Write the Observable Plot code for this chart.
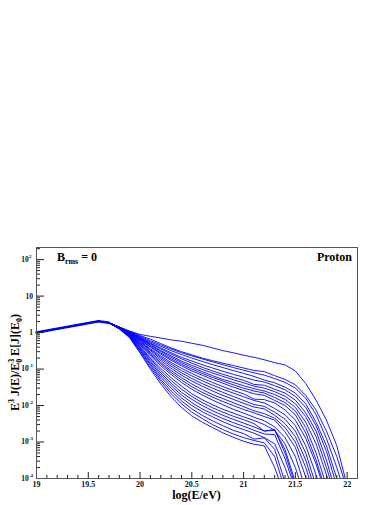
<!DOCTYPE html>
<html>
<head>
<meta charset="utf-8">
<script src="https://cdn.jsdelivr.net/npm/d3@7"></script>
<script src="https://cdn.jsdelivr.net/npm/@observablehq/plot@0.6"></script>
<style>
  html, body { margin: 0; padding: 0; background: #fff; }
  svg { display: block; }
</style>
</head>
<body>
<div id="chart"></div>
<script>
// ---------- data ----------
const HEAD_X = [19.0, 19.6, 19.7];
const HEAD_Y = [1.0, 2.05, 1.85];
const E_GRID = [19.8, 19.9, 20.0, 20.1, 20.2, 20.3, 20.4, 20.5, 20.6, 20.7, 20.8, 20.9,
                21.0, 21.1, 21.2, 21.3, 21.4, 21.5, 21.6, 21.7, 21.8, 21.9, 22.0];

const c01 = [1.41, 1.10, 0.89, 0.79, 0.71, 0.63, 0.58, 0.51, 0.45, 0.38, 0.32, 0.28, 0.24, 0.21, 0.18, 0.15, 0.13, 0.089, 0.040, 0.014, 4.0e-3, 7.9e-4, 6.3e-5];
const c02 = [1.41, 1.07, 0.83, 0.66, 0.50, 0.38, 0.30, 0.245, 0.20, 0.17, 0.145, 0.125, 0.107, 0.092, 0.085, 0.066, 0.052, 0.037, 0.019, 7.5e-3, 2.0e-3, 4.0e-4, 5.0e-5];
const c03 = [1.41, 1.05, 0.79, 0.60, 0.46, 0.355, 0.28, 0.23, 0.19, 0.158, 0.132, 0.110, 0.093, 0.079, 0.068, 0.055, 0.043, 0.030, 0.0158, 5.6e-3, 1.26e-3, 2.0e-4, 2.5e-5];
const c04 = [1.41, 1.05, 0.76, 0.56, 0.42, 0.32, 0.25, 0.20, 0.162, 0.132, 0.110, 0.091, 0.076, 0.063, 0.050, 0.042, 0.032, 0.022, 0.0112, 3.5e-3, 7.9e-4, 1.0e-4, 1.3e-5];
const c05 = [1.41, 1.02, 0.72, 0.52, 0.38, 0.28, 0.21, 0.166, 0.132, 0.107, 0.087, 0.072, 0.060, 0.050, 0.044, 0.035, 0.027, 0.0178, 8.9e-3, 2.8e-3, 5.6e-4, 6.3e-5];
const c06 = [1.41, 1.02, 0.71, 0.50, 0.355, 0.257, 0.191, 0.145, 0.112, 0.089, 0.072, 0.059, 0.049, 0.038, 0.036, 0.028, 0.022, 0.0141, 6.3e-3, 2.0e-3, 3.2e-4, 3.2e-5];
const c07 = [1.41, 1.0, 0.68, 0.47, 0.32, 0.23, 0.166, 0.126, 0.098, 0.078, 0.063, 0.051, 0.042, 0.034, 0.030, 0.024, 0.018, 0.0112, 5.0e-3, 1.41e-3, 2.0e-4, 2.5e-5];
const c08 = [1.41, 1.0, 0.66, 0.45, 0.30, 0.21, 0.151, 0.112, 0.085, 0.066, 0.052, 0.043, 0.035, 0.029, 0.025, 0.020, 0.0148, 8.9e-3, 3.5e-3, 8.9e-4, 1.26e-4, 2.0e-5];
const c09 = [1.38, 0.98, 0.63, 0.42, 0.275, 0.19, 0.135, 0.10, 0.076, 0.059, 0.047, 0.037, 0.030, 0.025, 0.022, 0.0166, 0.012, 7.1e-3, 2.5e-3, 5.0e-4, 6.3e-5];
const c10 = [1.38, 0.98, 0.62, 0.40, 0.257, 0.174, 0.123, 0.089, 0.068, 0.052, 0.041, 0.032, 0.026, 0.021, 0.019, 0.0138, 0.010, 5.6e-3, 1.78e-3, 3.2e-4, 4.0e-5];
const c11 = [1.38, 0.95, 0.59, 0.36, 0.23, 0.151, 0.105, 0.076, 0.056, 0.043, 0.033, 0.026, 0.021, 0.0150, 0.0145, 0.0118, 7.6e-3, 4.0e-3, 1.26e-3, 2.5e-4, 3.2e-5];
const c12 = [1.38, 0.93, 0.56, 0.34, 0.21, 0.135, 0.091, 0.065, 0.048, 0.036, 0.028, 0.022, 0.0174, 0.0138, 0.0118, 8.3e-3, 5.6e-3, 2.8e-3, 7.9e-4, 1.26e-4, 1.6e-5];
const c13 = [1.38, 0.93, 0.54, 0.32, 0.19, 0.12, 0.079, 0.055, 0.040, 0.030, 0.023, 0.0178, 0.0138, 0.0107, 9.5e-3, 6.6e-3, 4.2e-3, 2.0e-3, 5.0e-4, 6.3e-5];
const c14 = [1.35, 0.91, 0.51, 0.29, 0.17, 0.105, 0.068, 0.047, 0.034, 0.025, 0.019, 0.0148, 0.0115, 9.1e-3, 8.1e-3, 5.4e-3, 3.2e-3, 1.41e-3, 3.2e-4, 4.0e-5];
const c15 = [1.35, 0.89, 0.49, 0.27, 0.151, 0.091, 0.058, 0.039, 0.0275, 0.020, 0.0155, 0.012, 9.3e-3, 7.2e-3, 6.0e-3, 4.5e-3, 2.5e-3, 1.0e-3, 2.0e-4, 2.5e-5];
const c16 = [1.35, 0.89, 0.47, 0.25, 0.138, 0.081, 0.050, 0.033, 0.023, 0.017, 0.0129, 0.010, 7.8e-3, 6.3e-3, 5.0e-3, 4.0e-3, 1.9e-3, 7.1e-4, 1.1e-4, 1.6e-5];
const c17 = [1.35, 0.87, 0.45, 0.23, 0.123, 0.071, 0.043, 0.028, 0.0195, 0.0141, 0.0105, 7.9e-3, 6.2e-3, 4.8e-3, 3.8e-3, 2.6e-3, 1.32e-3, 4.0e-4, 5.0e-5];
const c18 = [1.32, 0.85, 0.42, 0.20, 0.105, 0.058, 0.034, 0.021, 0.0145, 0.0105, 7.9e-3, 6.2e-3, 4.9e-3, 3.9e-3, 3.0e-3, 2.1e-3, 8.9e-4, 2.0e-4, 2.5e-5];
const c19 = [1.32, 0.83, 0.40, 0.19, 0.091, 0.049, 0.028, 0.0178, 0.012, 8.7e-3, 6.6e-3, 5.1e-3, 4.1e-3, 3.2e-3, 2.0e-3, 2.1e-3, 6.3e-4, 7.9e-5];
const c20 = [1.32, 0.81, 0.38, 0.17, 0.079, 0.041, 0.023, 0.0148, 0.010, 7.2e-3, 5.4e-3, 4.2e-3, 3.3e-3, 2.6e-3, 2.0e-3, 2.2e-3, 5.0e-4, 6.3e-5];
const c21 = [1.29, 0.79, 0.355, 0.155, 0.069, 0.035, 0.0195, 0.012, 8.1e-3, 5.9e-3, 4.4e-3, 3.4e-3, 2.7e-3, 2.1e-3, 1.66e-3, 1.6e-3, 3.5e-4, 5.0e-5];
const c22 = [1.29, 0.78, 0.33, 0.138, 0.060, 0.030, 0.0162, 0.010, 6.8e-3, 4.9e-3, 3.6e-3, 2.75e-3, 2.2e-3, 1.74e-3, 1.32e-3, 8.9e-4, 2.0e-4, 3.2e-5];
const c23 = [1.29, 0.76, 0.32, 0.126, 0.052, 0.025, 0.0135, 8.1e-3, 5.4e-3, 3.8e-3, 2.8e-3, 2.1e-3, 1.7e-3, 1.2e-3, 1.3e-3, 6.3e-4, 7.9e-5];
const c24 = [1.26, 0.74, 0.295, 0.112, 0.046, 0.021, 0.0112, 6.6e-3, 4.4e-3, 3.0e-3, 2.2e-3, 1.66e-3, 1.32e-3, 1.1e-3, 9.5e-4, 4.0e-4, 5.0e-5];
const c25 = [1.26, 0.72, 0.275, 0.10, 0.039, 0.0174, 8.9e-3, 5.2e-3, 3.5e-3, 2.5e-3, 1.78e-3, 1.35e-3, 1.05e-3, 8.7e-4, 7.9e-4, 2.0e-4, 3.2e-5];

const X_TICKS = [19, 19.5, 20, 20.5, 21, 21.5, 22];
const X_TICK_LABELS = ["19", "19.5", "20", "20.5", "21", "21.5", "22"];
const Y_TICKS = [1e2, 10, 1, 1e-1, 1e-2, 1e-3, 1e-4];
const Y_TICK_BASE = ["10", "10", "1", "10", "10", "10", "10"];
const Y_TICK_EXP = ["2", "", "", "-1", "-2", "-3", "-4"];

// ---------- layout ----------
const W = 390, H = 505;
const ML = 36, MR = 33, MT = 247, MB = 27;
const FW = W - ML - MR, FH = H - MT - MB;
const FONT = "'Liberation Serif', 'Times New Roman', serif";

const curves = [c01,c02,c03,c04,c05,c06,c07,c08,c09,c10,c11,c12,c13,c14,c15,c16,c17,c18,c19,c20,c21,c22,c23,c24,c25];
const rows = curves.flatMap((c, i) => [
  ...HEAD_X.map((x, j) => ({id: i, x, y: HEAD_Y[j]})),
  ...c.map((y, j) => ({id: i, x: E_GRID[j], y}))
]);
const head = HEAD_X.map((x, j) => ({x, y: HEAD_Y[j]}));

const xMinor = d3.range(19, 22.1, 0.1).map(v => +v.toFixed(1)).filter(v => !X_TICKS.includes(v) && v <= 22.05);
const yMinor = [];
for (let k = -4; k <= 2; k++) for (let m = 2; m <= 9; m++) { const v = m * Math.pow(10, k); if (v < 215) yMinor.push(v); }

const yLab = Y_TICKS.map((v, i) => ({v, base: Y_TICK_BASE[i], exp: Y_TICK_EXP[i]}));
const xLab = X_TICKS.map((v, i) => ({v, t: X_TICK_LABELS[i]}));

const plot = Plot.plot({
  width: W, height: H,
  marginLeft: ML, marginRight: MR, marginTop: MT, marginBottom: MB,
  style: {fontFamily: FONT, background: "#fff"},
  x: {domain: [19, 22.1], axis: null},
  y: {type: "log", domain: [1e-4, 215], axis: null},
  marks: [
    Plot.line(rows, {x: "x", y: "y", z: "id", stroke: "#0000ff", strokeWidth: 0.9, clip: true}),
    Plot.line(head, {x: "x", y: "y", stroke: "#0000ff", strokeWidth: 2.6}),
    // x ticks (inward, from bottom)
    Plot.tickX(X_TICKS, {x: d => d, insetTop: FH - 6, stroke: "#222"}),
    Plot.tickX(xMinor, {x: d => d, insetTop: FH - 3, stroke: "#222"}),
    // y ticks (inward, from left)
    Plot.tickY(Y_TICKS, {y: d => d, insetRight: FW - 8, stroke: "#222"}),
    Plot.tickY(yMinor, {y: d => d, insetRight: FW - 4, stroke: "#222"}),
    // x tick labels
    Plot.text(xLab, {x: "v", text: "t", frameAnchor: "bottom", lineAnchor: "middle", dy: 6, fontSize: 8, fontWeight: "bold", fill: "#111"}),
    // y tick labels
    Plot.text(yLab.filter(d => !d.exp), {y: "v", text: "base", frameAnchor: "left", textAnchor: "end", dx: -3.5, fontSize: 7.5, fontWeight: "bold", fill: "#111"}),
    Plot.text(yLab.filter(d => d.exp), {y: "v", text: "base", frameAnchor: "left", textAnchor: "end", dx: -7.8, fontSize: 7.5, fontWeight: "bold", fill: "#111"}),
    Plot.text(yLab.filter(d => d.exp), {y: "v", text: "exp", frameAnchor: "left", textAnchor: "start", dx: -7.6, dy: -3.5, fontSize: 5, fontWeight: "bold", fill: "#111"}),
    Plot.frame({stroke: "#555", strokeWidth: 1})
  ]
});
document.getElementById("chart").appendChild(plot);

// ---------- rich text (titles, annotations) ----------
const svg = d3.select(plot);
function rich(x, y, parts, opts) {
  const t = svg.append("text")
    .attr("transform", `translate(${x},${y})` + (opts.rotate ? ` rotate(${opts.rotate})` : ""))
    .attr("text-anchor", opts.anchor || "start")
    .attr("font-family", FONT).attr("font-weight", "bold")
    .attr("font-size", opts.size).attr("fill", "#000");
  let cur = 0;
  for (const p of parts) {
    const off = p.s === "sup" ? -opts.size * 0.42 : p.s === "sub" ? opts.size * 0.25 : 0;
    const ts = t.append("tspan").attr("dy", off - cur).text(p.t);
    if (p.s) ts.attr("font-size", opts.size * 0.66);
    if (p.dx) ts.attr("dx", p.dx);
    cur = off;
  }
  return t;
}
// y axis title
rich(19, MT + FH / 2, [
  {t: "E"}, {t: "3", s: "sup"}, {t: " J(E)/E"}, {t: "3", s: "sup"}, {t: "0", s: "sub", dx: -4},
  {t: " E[J](E"}, {t: "0", s: "sub"}, {t: ")"}
], {size: 12, rotate: -90, anchor: "middle"});
// x axis title
rich(ML + FW / 2, 499, [{t: "log(E/eV)"}], {size: 12, anchor: "middle"});
// annotations
rich(57, 261, [{t: "B"}, {t: "rms", s: "sub"}, {t: " = 0"}], {size: 12});
rich(352, 261, [{t: "Proton"}], {size: 12, anchor: "end"});
</script>
</body>
</html>
